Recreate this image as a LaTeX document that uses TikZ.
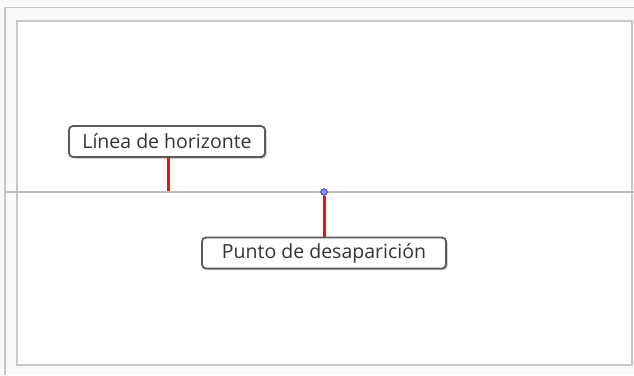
\documentclass[tikz,border=0pt]{standalone}
\usepackage{fontspec}
\setmainfont{Open Sans}
\usetikzlibrary{shadows}
\definecolor{bggray}{HTML}{F9F9F9}
\definecolor{framegray}{HTML}{C8C8C8}
\definecolor{linegray}{HTML}{BDBDBD}
\definecolor{boxborder}{HTML}{5A5A5A}
\definecolor{textcol}{HTML}{333333}
\definecolor{redline}{HTML}{EE1111}
\definecolor{dotfill}{HTML}{8C8CFF}
\definecolor{dotdraw}{HTML}{3C3CB4}
\tikzset{
  labelbox/.style={draw=boxborder, line width=1.8pt, fill=white, rounded corners=4pt,
    minimum height=31pt, inner xsep=0pt, text=textcol, font=\fontsize{19.5}{22}\selectfont,
    drop shadow={shadow xshift=1.5pt, shadow yshift=-1.5pt, fill=black, opacity=0.25}},
  redlink/.style={draw=redline, line width=3pt},
  horizon/.style={draw=linegray, line width=1.6pt},
}
\begin{document}
\begin{tikzpicture}[x=1pt,y=-1pt]
  \fill[bggray] (0,0) rectangle (634,375);
  \useasboundingbox (0,0) rectangle (634,375);
  % outer frame (left & top)
  \draw[framegray, line width=1.4pt] (5,375) -- (5,7.5) -- (634,7.5);
  % inner canvas
  \draw[framegray, line width=1.8pt, fill=white] (17,21) rectangle (632,365);
  % horizon line
  \coordinate (hl) at (6,192);
  \coordinate (hr) at (634,192);
  \draw[horizon] (hl) -- (hr);
  % labels
  \node[labelbox, minimum width=196pt] (lh) at (167,141.5) {Línea de horizonte};
  \node[labelbox, minimum width=244pt] (pd) at (324,253) {Punto de desaparición};
  \coordinate (hp) at (168,191);
  \node[circle, fill=dotfill, draw=dotdraw, line width=0.6pt, inner sep=0pt, minimum size=6.5pt] (vp) at (324,192) {};
  \draw[redlink] (lh.south -| hp) -- (hp);
  \draw[redlink] (vp.south) -- (pd.north);
  \node[circle, fill=dotfill, draw=dotdraw, line width=0.6pt, inner sep=0pt, minimum size=6.5pt] at (vp) {};
\end{tikzpicture}
\end{document}
